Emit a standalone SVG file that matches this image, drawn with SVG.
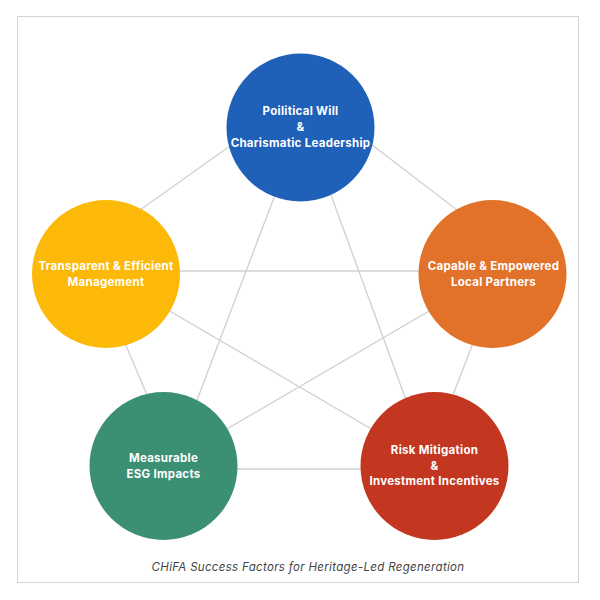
<svg xmlns="http://www.w3.org/2000/svg" width="600" height="600" viewBox="0 0 600 600">
<style>
.l{stroke:#d0d0d0;stroke-width:1.3;fill:none}
.t{font-family:"Inter","Noto Sans",sans-serif;font-size:11.5px;font-weight:700;letter-spacing:.28px;fill:#fff;text-anchor:middle}
.c{font-family:"Inter","Noto Sans",sans-serif;font-size:11.5px;font-style:italic;letter-spacing:.32px;fill:#444;text-anchor:middle}
.n{r:74px}
</style>
<rect width="600" height="600" fill="#fff"/>
<rect x="17.500" y="16.500" width="561" height="566" fill="#fff" stroke="#d4d4d4"/>
<g id="connectors">
<line class="l" x1="230" y1="146" x2="140" y2="210"/>
<line class="l" x1="371" y1="144" x2="457" y2="210"/>
<line class="l" x1="275" y1="195" x2="197" y2="400"/>
<line class="l" x1="331" y1="195" x2="406" y2="400"/>
<line class="l" x1="175" y1="271" x2="425" y2="271"/>
<line class="l" x1="125" y1="343" x2="147" y2="395"/>
<line class="l" x1="106.500" y1="274" x2="434.500" y2="466"/>
<line class="l" x1="492.500" y1="274" x2="163.500" y2="466"/>
<line class="l" x1="473" y1="343" x2="453" y2="395"/>
<line class="l" x1="230" y1="469" x2="365" y2="469"/>
</g>
<g id="node-political"><circle class="n" cx="300.500" cy="127.500" r="74" fill="#1f60b8"/>
<text class="t" x="300.500" y="115">Poilitical Will</text><text class="t" x="300.500" y="131">&amp;</text><text class="t" x="300.500" y="147">Charismatic Leadership</text></g>
<g id="node-transparent"><circle class="n" cx="106" cy="274" r="74" fill="#fdb907"/>
<text class="t" x="106" y="270">Transparent &amp; Efficient</text><text class="t" x="106" y="286">Management</text></g>
<g id="node-capable"><circle class="n" cx="492.500" cy="274" r="74" fill="#e2722a"/>
<text class="t" x="493.500" y="270">Capable &amp; Empowered</text><text class="t" x="493.500" y="286">Local Partners</text></g>
<g id="node-esg"><circle class="n" cx="163.500" cy="466" r="74" fill="#3b8f73"/>
<text class="t" x="163.500" y="462">Measurable</text><text class="t" x="163.500" y="478">ESG Impacts</text></g>
<g id="node-risk"><circle class="n" cx="434.500" cy="466" r="74" fill="#c3361f"/>
<text class="t" x="434.500" y="454">Risk Mitigation</text><text class="t" x="434.500" y="470">&amp;</text><text class="t" x="434.500" y="485">Investment Incentives</text></g>
<text class="c" x="308" y="570.500">CHiFA Success Factors for Heritage-Led Regeneration</text>
</svg>
